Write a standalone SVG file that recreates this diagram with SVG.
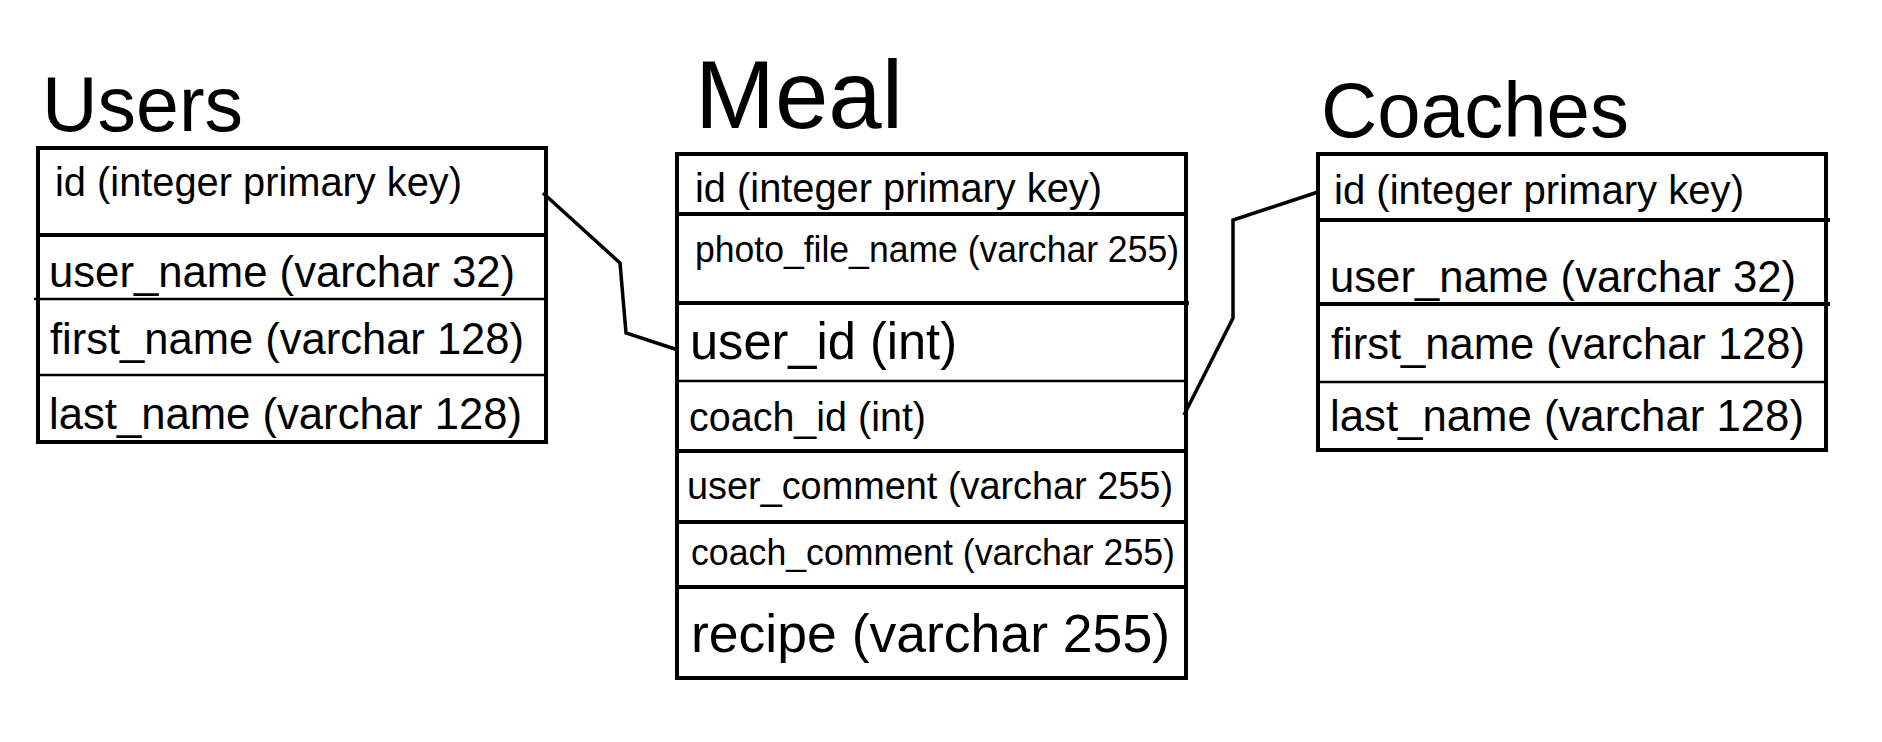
<svg xmlns="http://www.w3.org/2000/svg" width="1882" height="742" viewBox="0 0 1882 742">
<style>
text { font-family: "Liberation Sans", Arial, sans-serif; fill: #000; }
.box { fill: none; stroke: #000; stroke-width: 4; }
.div { stroke: #000; stroke-width: 4; }
.thin { stroke: #000; stroke-width: 2.5; }
.conn { fill: none; stroke: #000; stroke-width: 3.5; stroke-linejoin: miter; }
</style>
<rect x="0" y="0" width="1882" height="742" fill="#fff"/>

<g id="users">
  <text x="42" y="131" font-size="78" textLength="201" lengthAdjust="spacingAndGlyphs">Users</text>
  <rect class="box" x="38" y="148" width="508" height="294"/>
  <line class="div" x1="38" y1="235" x2="546" y2="235"/>
  <line class="thin" x1="34" y1="299" x2="546" y2="299"/>
  <line class="thin" x1="38" y1="375" x2="546" y2="375"/>
  <text x="55" y="196" font-size="40" textLength="407" lengthAdjust="spacingAndGlyphs">id (integer primary key)</text>
  <text x="49" y="287" font-size="44" textLength="466" lengthAdjust="spacingAndGlyphs">user_name (varchar 32)</text>
  <text x="50" y="354" font-size="44" textLength="474" lengthAdjust="spacingAndGlyphs">first_name (varchar 128)</text>
  <text x="49" y="429" font-size="44" textLength="473" lengthAdjust="spacingAndGlyphs">last_name (varchar 128)</text>
</g>

<g id="meal">
  <text x="695" y="128" font-size="97" textLength="208" lengthAdjust="spacingAndGlyphs">Meal</text>
  <rect class="box" x="677" y="154" width="509" height="524"/>
  <line class="div" x1="677" y1="214" x2="1186" y2="214"/>
  <line class="div" x1="677" y1="303" x2="1189" y2="303"/>
  <line class="thin" x1="677" y1="381" x2="1186" y2="381"/>
  <line class="div" x1="677" y1="451" x2="1186" y2="451"/>
  <line class="div" x1="677" y1="522" x2="1186" y2="522"/>
  <line class="div" x1="677" y1="587" x2="1186" y2="587"/>
  <text x="695" y="202" font-size="40" textLength="407" lengthAdjust="spacingAndGlyphs">id (integer primary key)</text>
  <text x="695" y="262" font-size="36" textLength="484" lengthAdjust="spacingAndGlyphs">photo_file_name (varchar 255)</text>
  <text x="690" y="359" font-size="52" textLength="267" lengthAdjust="spacingAndGlyphs">user_id (int)</text>
  <text x="689" y="431" font-size="40" textLength="237" lengthAdjust="spacingAndGlyphs">coach_id (int)</text>
  <text x="687" y="499" font-size="38" textLength="486" lengthAdjust="spacingAndGlyphs">user_comment (varchar 255)</text>
  <text x="691" y="565" font-size="36" textLength="484" lengthAdjust="spacingAndGlyphs">coach_comment (varchar 255)</text>
  <text x="691" y="652" font-size="54" textLength="479" lengthAdjust="spacingAndGlyphs">recipe (varchar 255)</text>
</g>

<g id="coaches">
  <text x="1321" y="137" font-size="78" textLength="308" lengthAdjust="spacingAndGlyphs">Coaches</text>
  <rect class="box" x="1318" y="154" width="508" height="296"/>
  <line class="div" x1="1318" y1="220" x2="1830" y2="220"/>
  <line class="div" x1="1318" y1="304" x2="1830" y2="304"/>
  <line class="thin" x1="1318" y1="382" x2="1826" y2="382"/>
  <text x="1334" y="204" font-size="40" textLength="410" lengthAdjust="spacingAndGlyphs">id (integer primary key)</text>
  <text x="1330" y="292" font-size="44" textLength="466" lengthAdjust="spacingAndGlyphs">user_name (varchar 32)</text>
  <text x="1331" y="359" font-size="44" textLength="474" lengthAdjust="spacingAndGlyphs">first_name (varchar 128)</text>
  <text x="1330" y="431" font-size="44" textLength="474" lengthAdjust="spacingAndGlyphs">last_name (varchar 128)</text>
</g>

<g id="connectors">
  <polyline class="conn" points="543,193 620,263 626,333 678,350"/>
  <polyline class="conn" points="1184,415 1233,318 1233,220 1318,192"/>
</g>
</svg>
